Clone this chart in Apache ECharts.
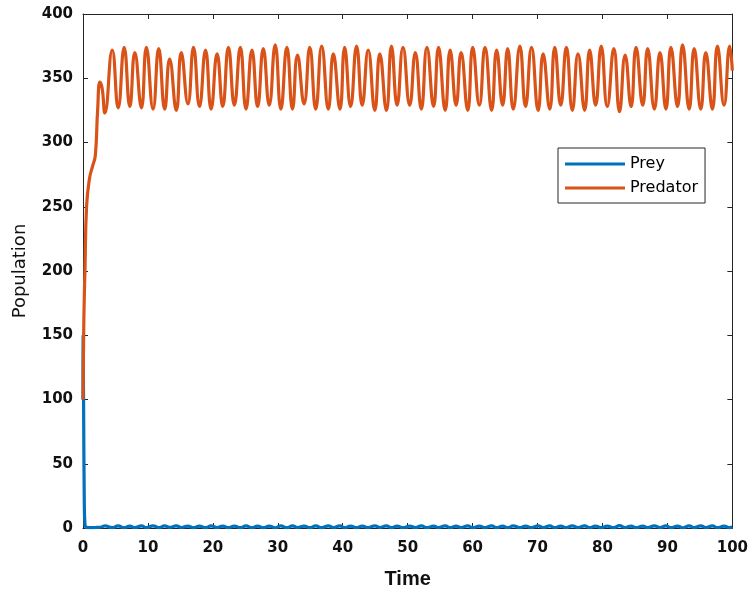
<!DOCTYPE html>
<html>
<head>
<meta charset="utf-8">
<script src="https://cdn.jsdelivr.net/npm/echarts@6/dist/echarts.min.js"></script>
<style>
  html, body { margin: 0; padding: 0; background: #fff; }
  #chart { width: 751px; height: 595px; }
</style>
</head>
<body>
<div id="chart"></div>
<script>
// time points (start-up, then the peaks / troughs of the cycle)
const time = [
  0, 0.02, 0.1, 0.2, 0.3, 0.55, 1.0, 1.5, 1.9, 2.25, 2.61, 2.95, 3.37,
  4.50, 5.42, 6.34, 7.21, 7.98, 9.00, 9.76, 10.79, 11.66, 12.58,
  13.34, 14.37, 15.13, 16.16, 17.02, 17.94, 18.87, 19.73, 20.65, 21.52,
  22.39, 23.31, 24.23, 25.10, 26.02, 26.89, 27.76, 28.68, 29.60, 30.47,
  31.40, 32.26, 33.03, 34.05, 34.92, 35.84, 36.76, 37.78, 38.55, 39.57,
  40.29, 41.21, 42.13, 43.00, 43.92, 44.94, 45.71, 46.73, 47.50, 48.37,
  49.28, 50.31, 51.18, 52.10, 52.97, 53.99, 54.75, 55.78, 56.54, 57.46,
  58.23, 59.25, 60.02, 61.04, 61.91, 62.93, 63.70, 64.62, 65.40, 66.26,
  67.28, 68.15, 69.07, 70.09, 70.86, 71.88, 72.65, 73.57, 74.44, 75.36,
  76.23, 77.25, 78.02, 78.94, 79.81, 80.73, 81.75, 82.62, 83.49, 84.41,
  85.17, 86.20, 86.96, 87.99, 88.85, 89.77, 90.54, 91.56, 92.33, 93.35,
  94.12, 95.14, 95.91, 96.93, 97.70, 98.72, 99.59, 100
];
const prey = [
  100, 150, 90, 20, 3, 0.5, 0.3, 0.3, 0.4, 0.5, 0.6, 1.0, 1.6,
  0.3, 1.6, 0.3, 1.5, 0.4, 1.6, 0.3, 1.7, 0.3, 1.6,
  0.5, 1.7, 0.4, 1.4, 0.3, 1.5, 0.3, 1.6, 0.4, 1.5,
  0.3, 1.5, 0.3, 1.6, 0.3, 1.5, 0.3, 1.5, 0.2, 1.6,
  0.3, 1.6, 0.4, 1.4, 0.3, 1.6, 0.3, 1.6, 0.4, 1.6,
  0.3, 1.5, 0.3, 1.5, 0.3, 1.7, 0.4, 1.7, 0.3, 1.5,
  0.3, 1.5, 0.4, 1.6, 0.3, 1.5, 0.3, 1.7, 0.3, 1.5,
  0.4, 1.7, 0.3, 1.5, 0.3, 1.7, 0.3, 1.5, 0.3, 1.6,
  0.3, 1.5, 0.3, 1.7, 0.4, 1.6, 0.3, 1.5, 0.3, 1.7,
  0.4, 1.7, 0.3, 1.5, 0.3, 1.5, 0.3, 1.8, 0.4, 1.5,
  0.3, 1.5, 0.3, 1.6, 0.4, 1.6, 0.3, 1.5, 0.2, 1.6,
  0.3, 1.6, 0.4, 1.6, 0.3, 1.5, 0.3, 0.8
];
const predator = [
  100, 108, 150, 180, 200, 250, 272, 282, 290, 325, 347, 342, 323,
  372, 327, 374, 328, 370, 327, 374, 326, 373, 326,
  365, 325, 370, 330, 374, 328, 372, 326, 369, 328,
  374, 329, 374, 326, 372, 328, 373, 329, 376, 326,
  374, 326, 368, 330, 374, 326, 375, 326, 369, 326,
  374, 328, 375, 329, 372, 325, 369, 325, 375, 329,
  374, 329, 370, 326, 374, 328, 374, 325, 372, 329,
  370, 325, 374, 329, 374, 325, 372, 329, 373, 326,
  375, 328, 374, 325, 369, 326, 374, 329, 374, 325,
  369, 325, 372, 329, 375, 328, 373, 324, 368, 328,
  374, 329, 373, 326, 370, 326, 374, 328, 376, 326,
  373, 326, 370, 326, 375, 329, 375, 356
];
const seriesNames = ['Prey', 'Predator'];

const chart = echarts.init(document.getElementById('chart'));

const axisColor = '#262626';
const tickFont = {
  fontFamily: 'DejaVu Sans',
  fontWeight: 'bold',
  fontSize: 15,
  color: '#111'
};
const boxLine = {show: true, onZero: false, lineStyle: {color: axisColor, width: 1}};
const inTick = {show: true, inside: true, length: 5, lineStyle: {color: axisColor}};

const options = {
  animation: false,
  backgroundColor: '#fff',
  grid: {
    left: 83,
    right: 17,
    top: 14,
    bottom: 67
  },
  legend: {
    data: seriesNames,
    orient: 'vertical',
    left: 558,
    top: 148,
    padding: [8, 7, 7, 7],
    itemWidth: 60,
    itemHeight: 3,
    itemGap: 8,
    itemTextGap: 4,
    icon: 'rect',
    borderColor: axisColor,
    borderWidth: 1,
    backgroundColor: '#fff',
    textStyle: {
      fontFamily: 'DejaVu Sans',
      fontSize: 16,
      lineHeight: 16,
      color: '#000'
    }
  },
  xAxis: [
    {
      type: 'value',
      min: 0,
      max: 100,
      interval: 10,
      position: 'bottom',
      name: 'Time',
      nameLocation: 'middle',
      nameGap: 41,
      nameTextStyle: {
        fontFamily: 'Liberation Sans',
        fontWeight: 'bold',
        fontSize: 20,
        color: '#111'
      },
      axisLine: boxLine,
      axisTick: inTick,
      axisLabel: Object.assign({margin: 13}, tickFont),
      splitLine: {show: false}
    },
    {
      type: 'value',
      min: 0,
      max: 100,
      interval: 10,
      position: 'top',
      axisLine: boxLine,
      axisTick: inTick,
      axisLabel: {show: false},
      splitLine: {show: false}
    }
  ],
  yAxis: [
    {
      type: 'value',
      min: 0,
      max: 400,
      interval: 50,
      position: 'left',
      name: 'Population',
      nameLocation: 'middle',
      nameGap: 54,
      nameTextStyle: {
        fontFamily: 'DejaVu Sans',
        fontSize: 18,
        color: '#111'
      },
      axisLine: boxLine,
      axisTick: inTick,
      axisLabel: Object.assign({margin: 10}, tickFont),
      splitLine: {show: false}
    },
    {
      type: 'value',
      min: 0,
      max: 400,
      interval: 50,
      position: 'right',
      axisLine: boxLine,
      axisTick: inTick,
      axisLabel: {show: false},
      splitLine: {show: false}
    }
  ],
  series: [
    {
      name: 'Prey',
      type: 'line',
      xAxisIndex: 0,
      yAxisIndex: 0,
      data: time.map((t, i) => [t, prey[i]]),
      showSymbol: false,
      symbol: 'none',
      smooth: 0.5,
      itemStyle: {color: '#0072BD'},
      lineStyle: {color: '#0072BD', width: 3.2}
    },
    {
      name: 'Predator',
      type: 'line',
      xAxisIndex: 0,
      yAxisIndex: 0,
      data: time.map((t, i) => [t, predator[i]]),
      showSymbol: false,
      symbol: 'none',
      smooth: 0.5,
      itemStyle: {color: '#D95319'},
      lineStyle: {color: '#D95319', width: 3.2}
    }
  ]
};

chart.setOption(options);
</script>
</body>
</html>
